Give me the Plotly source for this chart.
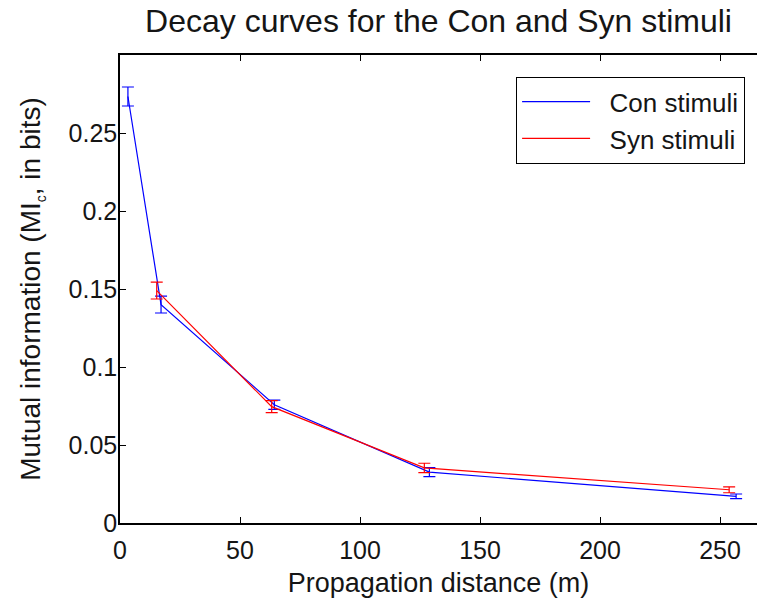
import plotly.graph_objects as go

# Propagation distances (m) and mutual information (bits) with error bars
con_x = [3.3, 17.1, 64.3, 128.9, 256.7]
con_y = [0.2734, 0.1400, 0.0758, 0.0326, 0.0171]
con_err = [0.0061, 0.0054, 0.0030, 0.0029, 0.0015]

syn_x = [15.3, 63.2, 126.8, 253.8]
syn_y = [0.1490, 0.0746, 0.0353, 0.0213]
syn_err = [0.0054, 0.0038, 0.0030, 0.0019]

x_ticks = [0, 50, 100, 150, 200, 250]
y_ticks = [0, 0.05, 0.1, 0.15, 0.2, 0.25]
y_tick_labels = ["0", "0.05", "0.1", "0.15", "0.2", "0.25"]

FONT = "Liberation Sans, Arial, Helvetica, sans-serif"
INK = "#151515"

fig = go.Figure()
fig.add_trace(go.Scatter(
    x=con_x, y=con_y, mode="lines", name="\u00a0\u00a0Con stimuli",
    line=dict(color="#0000ff", width=1.2),
    error_y=dict(type="data", array=con_err, visible=True,
                 color="#0000ff", thickness=1.2, width=6),
))
fig.add_trace(go.Scatter(
    x=syn_x, y=syn_y, mode="lines", name="\u00a0\u00a0Syn stimuli",
    line=dict(color="#ff0000", width=1.2),
    error_y=dict(type="data", array=syn_err, visible=True,
                 color="#ff0000", thickness=1.2, width=6),
))

fig.update_layout(
    width=757, height=598,
    margin=dict(l=120, r=0, t=55, b=75),
    paper_bgcolor="white", plot_bgcolor="white",
    font=dict(family=FONT, color=INK, size=25),
    title=dict(text="Decay curves for the Con and Syn stimuli",
               x=0.5, xref="paper", xanchor="center",
               y=0.965, yref="container", yanchor="middle",
               font=dict(size=32, color=INK)),
    legend=dict(x=0.981, xanchor="right", y=0.953, yanchor="top",
                bordercolor="black", borderwidth=1.2, bgcolor="white",
                font=dict(size=26), itemwidth=68, tracegroupgap=0),
    showlegend=True,
)

fig.update_xaxes(
    range=[0, 265.4], tickvals=x_ticks,
    ticks="inside", ticklen=6, tickcolor="black", tickwidth=1,
    showline=True, linecolor="black", linewidth=1.5, mirror="ticks",
    showgrid=False, zeroline=False,
    tickfont=dict(size=25, color=INK), ticklabelstandoff=4,
    title=dict(text="Propagation distance (m)", font=dict(size=27), standoff=10),
)
fig.update_yaxes(
    range=[0, 0.3], tickvals=y_ticks, ticktext=y_tick_labels,
    ticks="inside", ticklen=6, tickcolor="black", tickwidth=1,
    showline=True, linecolor="black", linewidth=1.5, mirror=False,
    showgrid=False, zeroline=False,
    tickfont=dict(size=25, color=INK), ticklabelstandoff=-4,
    title=dict(text="Mutual information (MI<sub><span style='font-size:14px'>c</span></sub>, in bits)",
               font=dict(size=28), standoff=20),
)

fig.write_html("out.html")
